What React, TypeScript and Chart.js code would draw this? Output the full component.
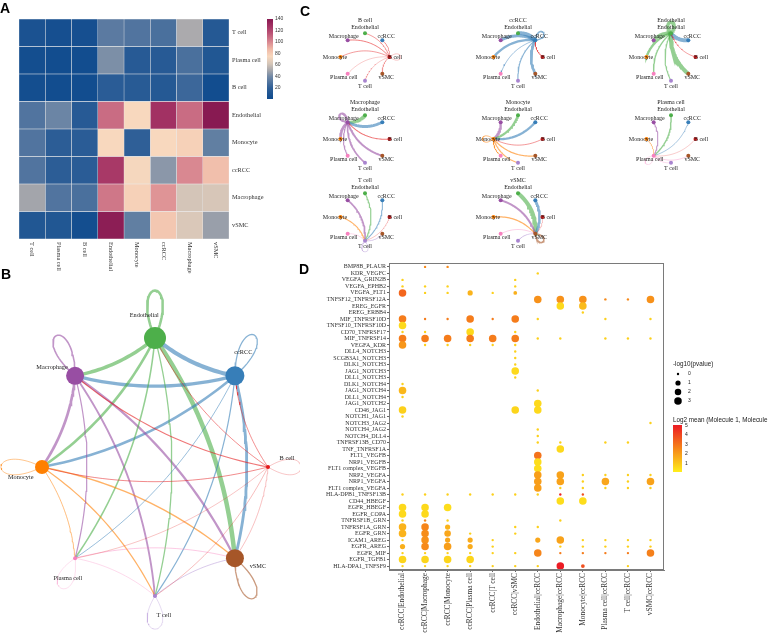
import React, { useEffect, useRef } from 'react';
import { Chart, registerables } from 'chart.js';
Chart.register(...registerables);

// ---------------- data ----------------
const cellTypes = ['B cell', 'ccRCC', 'Endothelial', 'Macrophage', 'Monocyte', 'Plasma cell', 'T cell', 'vSMC'];
const cellColors = ['#e41a1c', '#377eb8', '#4daf4a', '#984ea3', '#ff7f00', '#f781bf', '#a884cf', '#a65628'];
const groupSize = [2, 9.5, 11, 9, 7, 2, 2, 9];

const heatOrder = ['T cell', 'Plasma cell', 'B cell', 'Endothelial', 'Monocyte', 'ccRCC', 'Macrophage', 'vSMC'];
const heatCounts = [
  [8, 5, 5, 33, 30, 28, 52, 14],
  [4, 3, 3, 42, 15, 15, 28, 12],
  [4, 3, 3, 17, 16, 14, 24, 3],
  [30, 38, 15, 108, 75, 128, 108, 140],
  [30, 18, 17, 75, 20, 75, 78, 35],
  [30, 18, 17, 125, 74, 45, 100, 85],
  [50, 30, 28, 105, 78, 97, 62, 63],
  [12, 12, 4, 138, 35, 82, 64, 48],
];
const heatTicks = [20, 40, 60, 80, 100, 120, 140];

const lrPairs = [
  'BMP8B_PLAUR', 'KDR_VEGFC', 'VEGFA_GRIN2B', 'VEGFA_EPHB2', 'VEGFA_FLT1', 'TNFSF12_TNFRSF12A',
  'EREG_EGFR', 'EREG_ERBB4', 'MIF_TNFRSF10D', 'TNFSF10_TNFRSF10D', 'CD70_TNFRSF17', 'MIF_TNFRSF14',
  'VEGFA_KDR', 'DLL4_NOTCH3', 'SCGB3A1_NOTCH3', 'DLK1_NOTCH3', 'JAG1_NOTCH3', 'DLL1_NOTCH3',
  'DLK1_NOTCH4', 'JAG1_NOTCH4', 'DLL1_NOTCH4', 'JAG1_NOTCH2', 'CD46_JAG1', 'NOTCH1_JAG1',
  'NOTCH3_JAG2', 'NOTCH4_JAG2', 'NOTCH4_DLL4', 'TNFRSF13B_CD70', 'TNF_TNFRSF1A', 'FLT1_VEGFB',
  'NRP1_VEGFB', 'FLT1 complex_VEGFB', 'NRP2_VEGFA', 'NRP1_VEGFA', 'FLT1 complex_VEGFA',
  'HLA-DPB1_TNFSF13B', 'CD44_HBEGF', 'EGFR_HBEGF', 'EGFR_COPA', 'TNFRSF1B_GRN', 'TNFRSF1A_GRN',
  'EGFR_GRN', 'ICAM1_AREG', 'EGFR_AREG', 'EGFR_MIF', 'EGFR_TGFB1', 'HLA-DPA1_TNFSF9',
];
const lrColumns = [
  'ccRCC|Endothelial', 'ccRCC|Macrophage', 'ccRCC|Monocyte', 'ccRCC|Plasma cell', 'ccRCC|T cell', 'ccRCC|vSMC',
  'Endothelial|ccRCC', 'Macrophage|ccRCC', 'Monocyte|ccRCC', 'Plasma cell|ccRCC', 'T cell|ccRCC', 'vSMC|ccRCC',
];
// [row (1-based), -log10(pvalue), log2 mean]
const colTumorEndo = [[3, 0, 0.8], [4, 0, 0.8], [5, 3, 3.3], [9, 3, 2.8], [10, 3, 0.6], [11, 0, 0.8], [12, 3, 2.8], [13, 3, 2.2], [19, 0, 0.8], [20, 3, 1.4], [21, 0, 0.8], [23, 3, 0.8], [24, 0, 0.8], [36, 0, 0.8], [38, 3, 0.6], [39, 3, 0.6], [40, 0, 0.8], [41, 3, 1.5], [42, 3, 1.5], [43, 0, 0.8], [44, 1, 1.6], [45, 0, 0.8], [46, 3, 0.7], [47, 0, 0.8]];
const colTumorMacro = [[1, 0, 2.5], [4, 0, 0.8], [5, 0, 0.8], [9, 0, 2.8], [11, 0, 0.8], [12, 3, 2.8], [13, 0, 0.8], [36, 0, 0.8], [38, 3, 0.6], [39, 3, 0.6], [40, 0, 2.5], [41, 3, 2.6], [42, 3, 2.4], [43, 3, 2.3], [44, 3, 2.5], [45, 0, 0.8], [46, 3, 0.7], [47, 0, 0.8]];
const colTumorMono = [[1, 0, 2.5], [4, 0, 0.8], [5, 0, 0.8], [9, 0, 2.8], [12, 3, 2.8], [13, 0, 0.8], [36, 0, 0.8], [38, 3, 0.5], [40, 0, 0.8], [41, 1, 1.5], [42, 2, 1.8], [43, 1, 1.8], [44, 3, 2.0], [45, 0, 0.8], [46, 3, 0.7], [47, 0, 0.8]];
const colTumorPlasma = [[5, 1, 1.5], [9, 3, 2.8], [11, 3, 0.6], [12, 3, 2.8], [13, 0, 0.8], [36, 0, 0.8], [42, 0, 0.8], [43, 1, 1.7], [44, 1, 1.7], [45, 0, 0.8], [46, 3, 0.7], [47, 0, 0.8]];
const colTumorT = [[5, 0, 0.8], [9, 0, 2.8], [12, 3, 2.8], [13, 0, 0.8], [36, 0, 0.8], [43, 0, 0.8], [44, 0, 0.8], [45, 0, 0.8], [47, 0, 0.8]];
const colTumorVsmc = [[3, 0, 0.8], [4, 0, 0.8], [5, 0.3, 1.6], [9, 3, 2.8], [11, 0, 0.8], [12, 3, 2.8], [13, 0, 0.8], [14, 0, 0.8], [15, 0, 0.8], [16, 0, 0.8], [17, 3, 0.6], [18, 0, 0.8], [23, 3, 0.7], [36, 0, 0.8], [41, 0, 0.8], [42, 0, 0.8], [45, 0, 0.8], [47, 0, 0.8]];
const colEndoTumor = [[2, 0, 0.8], [6, 3, 2.3], [9, 0, 0.8], [12, 0, 0.8], [20, 0, 0.8], [22, 3, 0.6], [23, 3, 0.6], [26, 0, 0.8], [27, 0, 0.8], [28, 0, 0.8], [30, 3, 3.0], [31, 3, 0.5], [32, 3, 0.5], [33, 3, 2.0], [34, 3, 2.0], [35, 3, 2.0], [36, 0, 0.8], [41, 0, 0.8], [43, 1, 1.8], [45, 3, 2.6], [47, 0, 0.8]];
const colMacroTumor = [[6, 3, 2.3], [7, 3, 0.6], [12, 0, 0.8], [28, 0, 0.8], [29, 3, 0.6], [33, 3, 1.9], [34, 3, 1.9], [35, 0, 0.8], [36, 0, 4.8], [37, 3, 0.5], [40, 0, 0.8], [43, 3, 1.9], [44, 0, 0.8], [45, 0, 2.8], [47, 3, 5.0]];
const colMonoTumor = [[6, 3, 2.3], [7, 3, 1.3], [8, 0, 0.8], [33, 0, 0.8], [34, 0, 0.8], [35, 0, 0.8], [36, 0, 3.8], [37, 3, 0.5], [43, 0, 0.8], [44, 0, 0.8], [45, 0, 2.8], [47, 0.3, 3.8]];
const colPlasmaTumor = [[6, 0, 2.5], [9, 0, 0.8], [12, 0, 0.8], [28, 0, 0.8], [33, 0, 0.8], [34, 3, 1.8], [35, 0, 0.8], [43, 0, 0.8], [44, 0, 0.8], [45, 0, 2.8]];
const colTTumor = [[6, 0, 2.5], [12, 0, 0.8], [28, 0, 0.8], [33, 0, 0.8], [34, 0, 0.8], [35, 0, 0.8], [43, 0, 0.8], [44, 0, 0.8], [45, 0, 2.8], [47, 0, 0.8]];
const colVsmcTumor = [[6, 3, 2.3], [9, 0, 0.8], [12, 0, 0.8], [25, 0, 0.8], [33, 0, 0.8], [34, 3, 1.9], [35, 0, 0.8], [43, 0, 0.8], [44, 0, 0.8], [45, 3, 2.7]];
const dotColumns = [colTumorEndo, colTumorMacro, colTumorMono, colTumorPlasma, colTumorT, colTumorVsmc, colEndoTumor, colMacroTumor, colMonoTumor, colPlasmaTumor, colTTumor, colVsmcTumor];
const pvalueTicks = [0, 1, 2, 3];
const meanTicks = [1, 2, 3, 4, 5];

// ---------------- helpers ----------------
const heatStops: [number, string][] = [[0, '#0d4a8d'], [20, '#2f5f97'], [40, '#7289a6'], [50, '#a3a5ab'], [62, '#d4c5b8'], [75, '#f8d8be'], [88, '#efb8a6'], [100, '#d98891'], [115, '#bb5476'], [128, '#a23163'], [140, '#881a52']];
const meanStops: [number, string][] = [[0, '#fff21c'], [2.5, '#f6891a'], [5, '#ec1c24']];

function hexRgb(h: string) {
  const n = parseInt(h.slice(1), 16);
  return [(n >> 16) & 255, (n >> 8) & 255, n & 255];
}
function interp(stops: [number, string][], v: number) {
  if (v <= stops[0][0]) return stops[0][1];
  for (let i = 1; i < stops.length; i++) {
    if (v <= stops[i][0]) {
      const [v0, c0] = stops[i - 1];
      const [v1, c1] = stops[i];
      const t = (v - v0) / (v1 - v0);
      const a = hexRgb(c0), b = hexRgb(c1);
      const c = a.map((x, k) => Math.round(x + (b[k] - x) * t));
      return `rgb(${c[0]},${c[1]},${c[2]})`;
    }
  }
  return stops[stops.length - 1][1];
}
function rgba(hex: string, a: number) {
  const c = hexRgb(hex);
  return `rgba(${c[0]},${c[1]},${c[2]},${a})`;
}
const heatColor = (v: number) => interp(heatStops, v);
const meanColor = (v: number) => interp(meanStops, v);
const pRadius = (p: number) => (p <= 0 ? 1.2 : 1 + 1.6 * Math.sqrt(p));
const hIdx = (name: string) => heatOrder.indexOf(name);
const weight = (s: number, t: number) => heatCounts[hIdx(cellTypes[s])][hIdx(cellTypes[t])];

// ---------------- heatmap (A) ----------------
function heatConfig(): any {
  const datasets = heatOrder.map((colName, c) => ({
    label: colName,
    data: heatOrder.map(() => 1),
    backgroundColor: heatOrder.map((_, r) => heatColor(heatCounts[r][c])),
    borderColor: 'rgba(232,232,232,0.9)',
    borderWidth: 0.5,
    borderSkipped: false,
    barPercentage: 1,
    categoryPercentage: 1,
  }));
  const decor = {
    id: 'heatDecor',
    afterDraw(chart: any) {
      const { ctx, chartArea: a, scales } = chart;
      ctx.save();
      ctx.fillStyle = '#333';
      ctx.font = '6.3px "Liberation Serif"';
      ctx.textAlign = 'left';
      ctx.textBaseline = 'middle';
      heatOrder.forEach((n, r) => ctx.fillText(n, a.right + 3, scales.y.getPixelForValue(r)));
      heatOrder.forEach((n, c) => {
        const x = scales.x.getPixelForValue(c + 0.5);
        ctx.save();
        ctx.translate(x, a.bottom + 3);
        ctx.rotate(Math.PI / 2);
        ctx.fillText(n, 0, 0);
        ctx.restore();
      });
      const bx = 267, bw = 6, top = 19, bot = 99, vmin = 1, vmax = 140;
      const vy = (v: number) => bot - ((v - vmin) / (vmax - vmin)) * (bot - top);
      const g = ctx.createLinearGradient(0, bot, 0, top);
      g.addColorStop(0, heatColor(vmin));
      heatStops.forEach(([v, c]) => { if (v > vmin) g.addColorStop((v - vmin) / (vmax - vmin), c); });
      ctx.fillStyle = g;
      ctx.fillRect(bx, top, bw, bot - top);
      ctx.fillStyle = '#333';
      ctx.font = '5px "Liberation Sans"';
      heatTicks.forEach((t) => ctx.fillText(String(t), bx + bw + 2, vy(t)));
      ctx.restore();
    },
  };
  return {
    type: 'bar',
    data: { labels: heatOrder, datasets },
    options: {
      indexAxis: 'y',
      animation: false,
      responsive: false,
      layout: { padding: { left: 19, top: 19, right: 61, bottom: 41 } },
      scales: {
        x: { stacked: true, min: 0, max: 8, display: false },
        y: { stacked: true, display: false },
      },
      plugins: { legend: { display: false }, tooltip: { enabled: false } },
    },
    plugins: [decor],
  };
}

// ---------------- networks (B, C) ----------------
type NetOpts = {
  width: number; height: number; cx: number; cy: number; rx: number; ry: number;
  edges: { from: number; to: number; w: number }[];
  loops: { node: number; w: number }[];
  nodeR: number[]; k: number; loopL: (r: number) => number; loopW: number; loopTilt: number;
  widthBase: number; widthScale: number; loopWidthScale: number; alpha: number;
  font: number; labelAngle: number; labelDist: (r: number) => number; title?: string;
};

function netConfig(o: NetOpts): any {
  const node = (i: number) => ({ x: Math.cos((i * Math.PI) / 4), y: Math.sin((i * Math.PI) / 4) });
  const toPx = (p: any) => ({ x: p.x * o.rx, y: -p.y * o.ry });
  const toData = (q: any) => ({ x: q.x / o.rx, y: -q.y / o.ry });
  const datasets: any[] = [];
  const edgeStyle = (c: number, width: number) => ({
    type: 'scatter', showLine: true, borderColor: rgba(cellColors[c], o.alpha),
    borderWidth: width, pointRadius: 0, pointHoverRadius: 0, order: 1, clip: false,
  });
  o.edges.forEach((e) => {
    const a = toPx(node(e.from)), b = toPx(node(e.to));
    const dx = b.x - a.x, dy = b.y - a.y;
    const c = { x: (a.x + b.x) / 2 - dy * o.k, y: (a.y + b.y) / 2 + dx * o.k };
    const pts: any[] = [];
    for (let i = 0; i <= 30; i++) {
      const t = i / 30, u = 1 - t;
      pts.push(toData({ x: u * u * a.x + 2 * u * t * c.x + t * t * b.x, y: u * u * a.y + 2 * u * t * c.y + t * t * b.y }));
    }
    datasets.push({ ...edgeStyle(Math.min(e.from, e.to), o.widthBase + (o.widthScale * e.w) / 140), data: pts });
  });
  o.loops.forEach((l) => {
    const base = (l.node * Math.PI) / 4;
    const th = base + o.loopTilt * Math.sin(2 * base);
    const n = toPx(node(l.node));
    const L = o.loopL(o.nodeR[l.node]) * 1.33;
    const d = { x: Math.cos(th), y: -Math.sin(th) };
    const p = { x: Math.sin(th), y: Math.cos(th) };
    const p1 = { x: n.x + d.x * L + p.x * o.loopW, y: n.y + d.y * L + p.y * o.loopW };
    const p2 = { x: n.x + d.x * L - p.x * o.loopW, y: n.y + d.y * L - p.y * o.loopW };
    const pts: any[] = [];
    for (let i = 0; i <= 40; i++) {
      const t = i / 40, u = 1 - t;
      pts.push(toData({
        x: u * u * u * n.x + 3 * u * u * t * p1.x + 3 * u * t * t * p2.x + t * t * t * n.x,
        y: u * u * u * n.y + 3 * u * u * t * p1.y + 3 * u * t * t * p2.y + t * t * t * n.y,
      }));
    }
    datasets.push({ ...edgeStyle(l.node, o.widthBase + (o.loopWidthScale * l.w) / 140), data: pts });
  });
  datasets.push({
    type: 'scatter', data: cellTypes.map((_, i) => node(i)), pointRadius: o.nodeR, pointHoverRadius: o.nodeR,
    pointBackgroundColor: cellColors, pointBorderWidth: 0, order: 0, clip: false,
  });
  const labels = {
    id: 'netLabels',
    afterDatasetsDraw(chart: any) {
      const { ctx, scales } = chart;
      ctx.save();
      ctx.fillStyle = '#222';
      ctx.font = `${o.font}px "Liberation Serif"`;
      ctx.textAlign = 'center';
      ctx.textBaseline = 'middle';
      cellTypes.forEach((name, i) => {
        const nd = node(i);
        const x = scales.x.getPixelForValue(nd.x), y = scales.y.getPixelForValue(nd.y);
        const ang = (i * Math.PI) / 4 + o.labelAngle;
        const dist = o.labelDist(o.nodeR[i]);
        ctx.fillText(name, x + dist * Math.cos(ang), y - dist * Math.sin(ang));
      });
      if (o.title) ctx.fillText(o.title, o.cx, o.cy - 37);
      ctx.restore();
    },
  };
  return {
    type: 'scatter',
    data: { datasets },
    options: {
      animation: false,
      responsive: false,
      layout: { padding: 0, autoPadding: false },
      scales: {
        x: { type: 'linear', display: false, min: -o.cx / o.rx, max: (o.width - o.cx) / o.rx },
        y: { type: 'linear', display: false, min: -(o.height - o.cy) / o.ry, max: o.cy / o.ry },
      },
      plugins: { legend: { display: false }, tooltip: { enabled: false } },
    },
    plugins: [labels],
  };
}

function bigNetConfig(): any {
  const edges: any[] = [];
  for (let i = 0; i < 8; i++)
    for (let j = i + 1; j < 8; j++) edges.push({ from: j, to: i, w: (weight(i, j) + weight(j, i)) / 2 });
  edges.sort((a, b) => a.w - b.w);
  const loops = cellTypes.map((_, i) => ({ node: i, w: weight(i, i) }));
  return netConfig({
    width: 300, height: 357, cx: 155, cy: 187, rx: 113, ry: 129, edges, loops,
    nodeR: groupSize, k: 0.13, loopL: (r) => 30 + 1.6 * r, loopW: 27, loopTilt: (20 * Math.PI) / 180,
    widthBase: 0.35, widthScale: 4.2, loopWidthScale: 2.8, alpha: 0.6, font: 6.3,
    labelAngle: (25 * Math.PI) / 180, labelDist: (r) => 20 + 0.5 * r,
  });
}

function miniNetConfig(src: number, cx: number, cy: number): any {
  const edges: any[] = [];
  cellTypes.forEach((_, t) => { if (t !== src) edges.push({ from: src, to: t, w: weight(src, t) }); });
  edges.sort((a, b) => a.w - b.w);
  return netConfig({
    width: 150, height: 90, cx, cy, rx: 24.5, ry: 23.8, edges, loops: [{ node: src, w: weight(src, src) }],
    nodeR: cellTypes.map(() => 2), k: 0.25, loopL: () => 11, loopW: 11, loopTilt: 0,
    widthBase: 0.3, widthScale: 3.8, loopWidthScale: 3.8, alpha: 0.6, font: 6,
    labelAngle: 0, labelDist: () => 5.5, title: cellTypes[src],
  });
}

// ---------------- bubble plot (D) ----------------
function dotConfig(): any {
  const pts: any[] = [];
  dotColumns.forEach((col, ci) => col.forEach(([row, p, m]) => pts.push({ x: ci + 1, y: row, r: pRadius(p), m })));
  const legend = {
    id: 'dotLegend',
    afterDraw(chart: any) {
      const { ctx, chartArea: a } = chart;
      ctx.save();
      ctx.strokeStyle = '#7a7a7a';
      ctx.lineWidth = 1;
      ctx.strokeRect(a.left + 0.5, a.top + 0.5, a.right - a.left - 1, a.bottom - a.top - 1);
      ctx.fillStyle = '#222';
      ctx.textAlign = 'left';
      ctx.textBaseline = 'middle';
      ctx.font = '6.3px "Liberation Sans"';
      ctx.fillText('-log10(pvalue)', 383, 114);
      ctx.font = '5px "Liberation Sans"';
      pvalueTicks.forEach((p, i) => {
        const y = 124 + i * 9;
        ctx.fillStyle = '#000';
        ctx.beginPath();
        ctx.arc(388, y, pRadius(p), 0, Math.PI * 2);
        ctx.fill();
        ctx.fillStyle = '#222';
        ctx.fillText(String(p), 398, y);
      });
      ctx.font = '6.3px "Liberation Sans"';
      ctx.fillText('Log2 mean (Molecule 1, Molecule 2)', 383, 170);
      const top = 175, bot = 222, vmax = 5.05, vmin = 0.1;
      const vy = (v: number) => bot - ((v - vmin) / (vmax - vmin)) * (bot - top);
      const g = ctx.createLinearGradient(0, bot, 0, top);
      for (let i = 0; i <= 10; i++) {
        const v = vmin + ((vmax - vmin) * i) / 10;
        g.addColorStop(i / 10, meanColor(v));
      }
      ctx.fillStyle = g;
      ctx.fillRect(383, top, 9, bot - top);
      ctx.fillStyle = '#222';
      ctx.font = '5px "Liberation Sans"';
      meanTicks.forEach((t) => ctx.fillText(String(t), 395, vy(t)));
      ctx.restore();
    },
  };
  return {
    type: 'bubble',
    data: {
      datasets: [{
        data: pts,
        backgroundColor: (c: any) => meanColor(c.raw && c.raw.m !== undefined ? c.raw.m : 0),
        borderWidth: 0,
        hoverRadius: 0,
      }],
    },
    options: {
      animation: false,
      responsive: false,
      layout: { padding: { top: 13, right: 104, left: 0, bottom: 0 }, autoPadding: false },
      scales: {
        x: {
          type: 'linear', min: 0.4, max: 12.6,
          afterBuildTicks: (s: any) => { s.ticks = lrColumns.map((_, i) => ({ value: i + 1 })); },
          afterFit: (s: any) => { s.height = 67; },
          ticks: {
            autoSkip: false, minRotation: 90, maxRotation: 90, padding: 1, color: '#333',
            font: { family: 'Liberation Serif', size: 7.4 },
            callback: (v: any) => lrColumns[Math.round(v) - 1] || '',
          },
          grid: { drawOnChartArea: false, tickLength: 2, color: '#666' },
          border: { color: '#7a7a7a' },
        },
        y: {
          type: 'linear', min: 0.4, max: 47.6, reverse: true,
          afterBuildTicks: (s: any) => { s.ticks = lrPairs.map((_, i) => ({ value: i + 1 })); },
          afterFit: (s: any) => { s.width = 99; },
          ticks: {
            autoSkip: false, padding: 1, color: '#333',
            font: { family: 'Liberation Serif', size: 6 },
            callback: (v: any) => lrPairs[Math.round(v) - 1] || '',
          },
          grid: { drawOnChartArea: false, tickLength: 2, color: '#666' },
          border: { color: '#7a7a7a' },
        },
      },
      plugins: { legend: { display: false }, tooltip: { enabled: false } },
    },
    plugins: [legend],
  };
}

// ---------------- components ----------------
function ChartBox(props: { left: number; top: number; width: number; height: number; make: () => any }) {
  const ref = useRef<HTMLCanvasElement>(null);
  useEffect(() => {
    const chart = new Chart(ref.current as HTMLCanvasElement, props.make());
    return () => chart.destroy();
  }, []);
  return (
    <canvas
      ref={ref}
      width={props.width}
      height={props.height}
      style={{ position: 'absolute', left: props.left, top: props.top, width: props.width, height: props.height }}
    />
  );
}

const miniCenters = [[365, 57], [518, 57], [671, 57], [365, 139], [518, 139], [671, 139], [365, 217], [518, 217]];

const letterStyle = (left: number, top: number): React.CSSProperties => ({
  position: 'absolute', left, top, font: 'bold 14px "Liberation Sans"', lineHeight: '14px', color: '#000',
});

export default function App() {
  return (
    <div style={{ position: 'absolute', left: 0, top: 0, width: 768, height: 637, background: '#fff', overflow: 'hidden' }}>
      <ChartBox left={0} top={0} width={290} height={280} make={heatConfig} />
      <ChartBox left={0} top={280} width={300} height={357} make={bigNetConfig} />
      {miniCenters.map(([cx, cy], i) => (
        <ChartBox key={i} left={cx - 75} top={cy - 46} width={150} height={90} make={() => miniNetConfig(i, 75, 46)} />
      ))}
      <ChartBox left={290} top={250} width={478} height={387} make={dotConfig} />
      <div style={letterStyle(0, 1)}>A</div>
      <div style={letterStyle(1, 267)}>B</div>
      <div style={letterStyle(300, 4)}>C</div>
      <div style={letterStyle(299, 262)}>D</div>
    </div>
  );
}
